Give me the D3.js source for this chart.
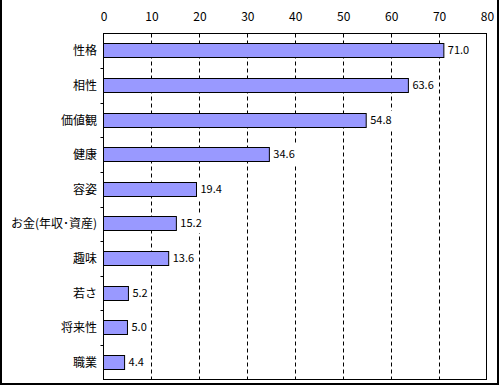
<!DOCTYPE html>
<html><head><meta charset="utf-8">
<script src="https://cdn.jsdelivr.net/npm/d3@7"></script>
<style>
html,body{margin:0;padding:0;background:#fff;}
svg{display:block;}
text{font-family:"Noto Sans CJK JP","Noto Sans",sans-serif;fill:#000;}
</style></head>
<body>
<script>
const categories = ["性格","相性","価値観","健康","容姿","お金(年収･資産)","趣味","若さ","将来性","職業"];
const values = [71.0,63.6,54.8,34.6,19.4,15.2,13.6,5.2,5.0,4.4];
const tickValues = [0,10,20,30,40,50,60,70,80];

(function(){
const W=500,H=385;
const svg=d3.select("body").append("svg").attr("width",W).attr("height",H);

// outer border with shadow
svg.append("line").attr("x1",1).attr("y1",0).attr("x2",1).attr("y2",383).attr("stroke","#000").attr("stroke-width",2);
svg.append("line").attr("x1",498).attr("y1",0).attr("x2",498).attr("y2",385).attr("stroke","#000").attr("stroke-width",2);
svg.append("line").attr("x1",0).attr("y1",384).attr("x2",499).attr("y2",384).attr("stroke","#000").attr("stroke-width",2);

const pL=103.5,pR=487,pT=33.5,pB=379.5;
const x=d3.scaleLinear().domain([0,80]).range([pL,pR]);
const y=d3.scaleBand().domain(categories).range([pT,pB]).paddingInner(0.6).paddingOuter(0.3);
const yb=d3.scaleBand().domain(categories).range([pT,pB]);
const by=c=>Math.floor(y(c))+0.5;

// gridlines
svg.append("g").selectAll("line").data(tickValues.slice(1,-1)).join("line")
  .attr("x1",d=>Math.round(x(d))+0.5).attr("x2",d=>Math.round(x(d))+0.5)
  .attr("y1",pT).attr("y2",pB)
  .attr("stroke","#000").attr("stroke-width",1).attr("stroke-dasharray","4,3");

// plot border
svg.append("rect").attr("x",pL).attr("y",pT).attr("width",pR-pL-0.5).attr("height",pB-pT)
  .attr("fill","none").attr("stroke","#000").attr("stroke-width",1);

// top axis
const xAxis=d3.axisTop(x).tickValues(tickValues).tickSize(0).tickPadding(0);
const gx=svg.append("g").attr("transform",`translate(0,21)`).call(xAxis);
gx.select(".domain").remove();
gx.selectAll("text").attr("font-size",12).attr("font-family","'Noto Sans CJK JP',sans-serif");

// left ticks at category boundaries
svg.append("g").selectAll("line").data(categories.slice(1)).join("line")
  .attr("x1",pL-3).attr("x2",pL)
  .attr("y1",d=>Math.round(yb(d))+0.5).attr("y2",d=>Math.round(yb(d))+0.5)
  .attr("stroke","#000");

// bars
svg.append("g").selectAll("rect").data(values).join("rect")
  .attr("x",pL).attr("y",(d,i)=>by(categories[i]))
  .attr("width",d=>x(d)-pL).attr("height",14)
  .attr("fill","#9999FF").attr("stroke","#000").attr("stroke-width",1);

// value labels with white background
const lg=svg.append("g").selectAll("g").data(values).join("g");
const lt=lg.append("text")
  .attr("x",d=>x(d)+4).attr("y",(d,i)=>by(categories[i])+7)
  .attr("dy","0.35em").attr("font-size",11)
  .text(d=>d.toFixed(1));
lg.each(function(d,i){
  const t=d3.select(this).select("text");
  const bb=t.node().getBBox();
  d3.select(this).insert("rect","text")
    .attr("x",x(d)+1.5).attr("y",by(categories[i])+7-9.5)
    .attr("width",bb.x+bb.width+3-(x(d)+1.5)).attr("height",19)
    .attr("fill","#fff");
});

// category labels
svg.append("g").selectAll("text").data(categories).join("text")
  .attr("x",97).attr("y",d=>by(d)+7)
  .attr("dy","0.35em").attr("text-anchor","end").attr("font-size",12)
  .text(d=>d);
})();
</script>
</body></html>
